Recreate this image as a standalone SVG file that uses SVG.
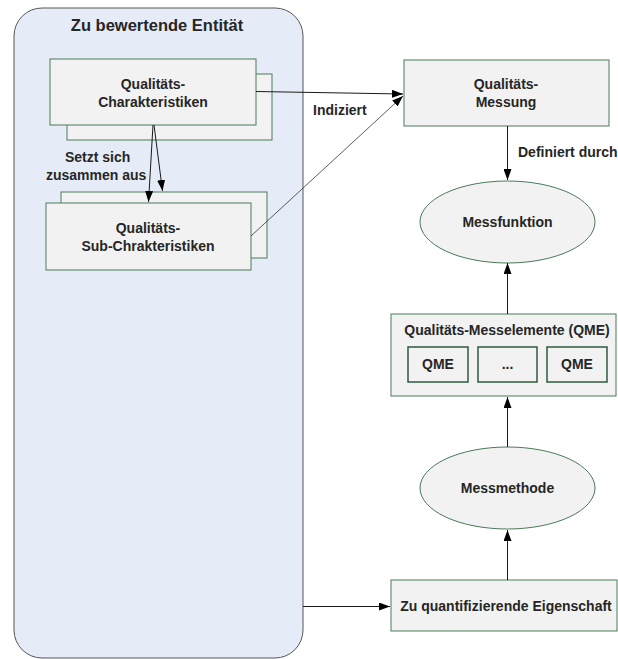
<svg xmlns="http://www.w3.org/2000/svg" width="618" height="659" viewBox="0 0 618 659">
  <style>
    text { font-family: "Liberation Sans", Arial, sans-serif; font-weight: bold; font-size: 14px; fill: #262626; text-anchor: middle; }
    .title { font-size: 16.5px; }
    .box { fill: #f2f2f2; stroke: #4a7a5a; stroke-width: 1; }
    .inner { fill: #f2f2f2; stroke: #2e5a3c; stroke-width: 1.5; }
    .ell { fill: #f2f2f2; stroke: #4a7a5a; stroke-width: 1; }
    .edge { fill: none; stroke: #1a1a1a; stroke-width: 1; }
    .thin { fill: none; stroke: #333; stroke-width: 0.8; }
    .lbl { text-anchor: start; }
  </style>
  <defs>
    <marker id="arrow" viewBox="0 0 11 8" refX="11" refY="4" markerWidth="11" markerHeight="8" markerUnits="userSpaceOnUse" orient="auto">
      <path d="M0,0 L11,4 L0,8 Z" fill="#000"/>
    </marker>
  </defs>

  <!-- container: entity under evaluation -->
  <g id="entitaet">
    <rect x="14" y="8" width="289" height="650" rx="28" ry="28" fill="#e6ecf7" stroke="#555" stroke-width="1"/>
    <text class="title" x="157" y="31">Zu bewertende Entität</text>
  </g>

  <g id="charakteristiken">
    <rect class="box" x="67" y="74" width="205" height="66"/>
    <rect class="box" x="50" y="59" width="206" height="66"/>
    <text x="153" y="89">Qualitäts-</text>
    <text x="153" y="107">Charakteristiken</text>
  </g>

  <g id="sub-charakteristiken">
    <rect class="box" x="61" y="192" width="206" height="66"/>
    <rect class="box" x="46" y="203" width="205" height="67"/>
    <text x="148" y="233">Qualitäts-</text>
    <text x="148" y="251">Sub-Chrakteristiken</text>
  </g>

  <g id="messung">
    <rect class="box" x="404" y="60" width="205" height="66"/>
    <text x="506" y="89">Qualitäts-</text>
    <text x="506" y="107">Messung</text>
  </g>

  <g id="messfunktion">
    <ellipse class="ell" cx="507.5" cy="222" rx="87.5" ry="41"/>
    <text x="507.5" y="227">Messfunktion</text>
  </g>

  <g id="qme">
    <rect class="box" x="391" y="314" width="225" height="82"/>
    <text x="507" y="335">Qualitäts-Messelemente (QME)</text>
    <rect class="inner" x="408" y="347" width="60" height="35"/>
    <text x="438" y="369">QME</text>
    <rect class="inner" x="478" y="347" width="59" height="35"/>
    <text x="507.5" y="369">...</text>
    <rect class="inner" x="547" y="347" width="60" height="35"/>
    <text x="577" y="369">QME</text>
  </g>

  <g id="messmethode">
    <ellipse class="ell" cx="507.5" cy="488" rx="87.5" ry="41"/>
    <text x="507.5" y="493">Messmethode</text>
  </g>

  <g id="eigenschaft">
    <rect class="box" x="391" y="580" width="226" height="51"/>
    <text x="506" y="611">Zu quantifizierende Eigenschaft</text>
  </g>

  <g id="connectors">
    <line class="edge" x1="153" y1="125" x2="148.5" y2="202" marker-end="url(#arrow)"/>
    <line class="edge" x1="154" y1="125" x2="162.5" y2="191" marker-end="url(#arrow)"/>
    <line class="edge" x1="256" y1="91.5" x2="403" y2="94" marker-end="url(#arrow)"/>
    <line class="thin" x1="251" y1="236" x2="403" y2="96" marker-end="url(#arrow)"/>
    <line class="edge" x1="507.5" y1="126" x2="507.5" y2="180" marker-end="url(#arrow)"/>
    <line class="edge" x1="507.5" y1="314" x2="507.5" y2="263" marker-end="url(#arrow)"/>
    <line class="edge" x1="507.5" y1="447" x2="507.5" y2="397" marker-end="url(#arrow)"/>
    <line class="edge" x1="507.5" y1="580" x2="507.5" y2="530" marker-end="url(#arrow)"/>
    <line class="edge" x1="303" y1="606.5" x2="390" y2="606.5" marker-end="url(#arrow)"/>
    <text class="lbl" x="65" y="162">Setzt sich</text>
    <text class="lbl" x="46" y="180">zusammen aus</text>
    <text class="lbl" x="313" y="115">Indiziert</text>
    <text class="lbl" x="518" y="157">Definiert durch</text>
  </g>
</svg>
